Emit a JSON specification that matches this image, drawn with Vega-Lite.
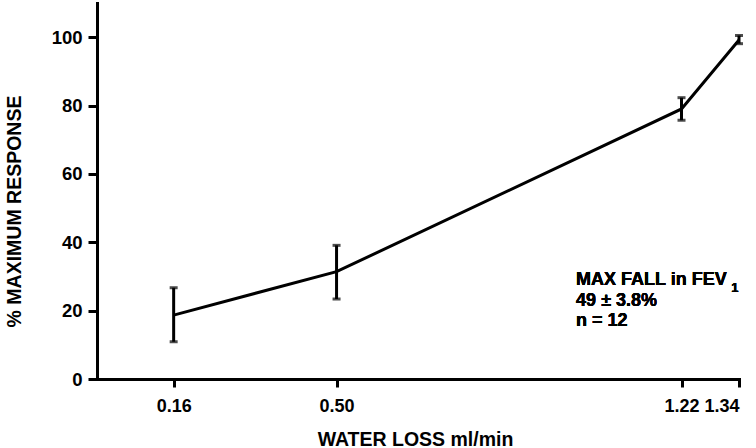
{
  "$schema": "https://vega.github.io/schema/vega-lite/v6.json",
  "width": 642,
  "height": 376,
  "autosize": {"type": "none"},
  "padding": {"left": 97, "top": 3, "right": 17, "bottom": 69},
  "background": "white",
  "view": {"stroke": null},
  "config": {
    "axis": {
      "domainColor": "black",
      "domainWidth": 3,
      "tickColor": "black",
      "tickWidth": 3,
      "labelColor": "black",
      "titleColor": "black"
    }
  },
  "data": {
    "values": [
      {"loss": 0.16, "resp": 18.7, "lo": 10.9, "hi": 26.7},
      {"loss": 0.50, "resp": 31.4, "lo": 23.4, "hi": 39.1},
      {"loss": 1.22, "resp": 79.0, "lo": 75.7, "hi": 82.3},
      {"loss": 1.34, "resp": 99.2, "lo": 98.1, "hi": 100.5}
    ]
  },
  "encoding": {
    "x": {
      "field": "loss",
      "type": "quantitative",
      "scale": {"domain": [0, 1.34], "nice": false, "zero": true},
      "axis": {
        "title": "WATER LOSS ml/min",
        "values": [0.16, 0.5, 1.22, 1.34],
        "format": ".2f",
        "grid": false,
        "domainCap": "square",
        "tickSize": 8,
        "labelPadding": 10,
        "labelFont": "Liberation Sans",
        "labelFontWeight": "bold",
        "labelFontSize": 18,
        "titleFont": "Liberation Sans",
        "titleFontWeight": "bold",
        "titleFontSize": 19.5,
        "titleX": 318,
        "titleY": 60,
        "titleBaseline": "middle",
        "titleAnchor": null
      }
    },
    "y": {
      "field": "resp",
      "type": "quantitative",
      "scale": {"domain": [0, 110], "nice": false},
      "axis": {
        "title": "% MAXIMUM  RESPONSE",
        "values": [0, 20, 40, 60, 80, 100],
        "grid": false,
        "domainCap": "square",
        "tickSize": 9,
        "labelPadding": 6,
        "labelFont": "Liberation Sans",
        "labelFontWeight": "bold",
        "labelFontSize": 18.5,
        "titleFont": "Liberation Sans",
        "titleFontWeight": "bold",
        "titleFontSize": 19.5,
        "titleX": -83,
        "titleY": 208,
        "titleAngle": -90,
        "titleBaseline": "middle",
        "titleAlign": "center"
      }
    }
  },
  "layer": [
    {
      "mark": {"type": "line", "color": "black", "strokeWidth": 3}
    },
    {
      "mark": {"type": "rule", "color": "black", "strokeWidth": 3},
      "encoding": {
        "y": {"field": "lo", "type": "quantitative"},
        "y2": {"field": "hi"}
      }
    },
    {
      "mark": {"type": "tick", "color": "black", "orient": "horizontal", "size": 8, "thickness": 3},
      "encoding": {"y": {"field": "lo", "type": "quantitative"}}
    },
    {
      "mark": {"type": "tick", "color": "black", "orient": "horizontal", "size": 8, "thickness": 3},
      "encoding": {"y": {"field": "hi", "type": "quantitative"}}
    },
    {
      "mark": {
        "type": "text",
        "align": "left",
        "baseline": "alphabetic",
        "font": "Liberation Sans",
        "fontWeight": "bold",
        "fontSize": 18,
        "lineHeight": 20.5,
        "color": "black",
        "text": ["MAX FALL in FEV", "49 ± 3.8%", "n = 12"]
      },
      "encoding": {
        "x": {"datum": 1.0, "type": "quantitative"},
        "y": {"datum": 27.5, "type": "quantitative"}
      }
    },
    {
      "mark": {
        "type": "text",
        "align": "left",
        "baseline": "alphabetic",
        "font": "Liberation Sans",
        "fontWeight": "bold",
        "fontSize": 13,
        "color": "black",
        "text": "1"
      },
      "encoding": {
        "x": {"datum": 1.324, "type": "quantitative"},
        "y": {"datum": 25.5, "type": "quantitative"}
      }
    }
  ]
}
